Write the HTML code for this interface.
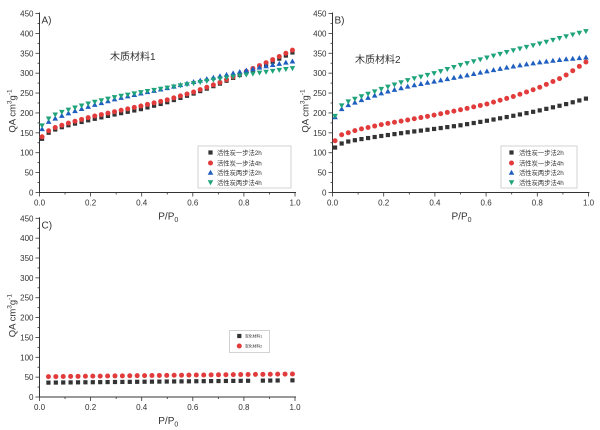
<!DOCTYPE html>
<html><head><meta charset="utf-8">
<style>
html,body{margin:0;padding:0;background:#fff;}
svg{display:block;}
text{font-family:"Liberation Sans","Noto Sans CJK SC",sans-serif;fill:#333;}
</style></head>
<body>
<svg id="s" width="600" height="430" viewBox="0 0 600 430" xmlns="http://www.w3.org/2000/svg"></svg>
<script>
const S=document.getElementById('s');
const NS='http://www.w3.org/2000/svg';
function el(t,a,txt){const e=document.createElementNS(NS,t);for(const k in a)e.setAttribute(k,a[k]);if(txt!=null)e.textContent=txt;S.appendChild(e);return e;}
const COL={k:'#333333',r:'#e23b3b',b:'#1f5fbf',g:'#1fa37a'};
function marker(type,x,y,c){
  if(type==='sq') el('rect',{x:x-2.1,y:y-2.1,width:4.2,height:4.2,fill:c});
  else if(type==='ci') el('circle',{cx:x,cy:y,r:2.5,fill:c});
  else if(type==='up') el('polygon',{points:`${x-2.8},${y+2.3} ${x+2.8},${y+2.3} ${x},${y-2.7}`,fill:c});
  else if(type==='dn') el('polygon',{points:`${x-2.8},${y-2.3} ${x+2.8},${y-2.3} ${x},${y+2.7}`,fill:c});
}
function interp(xs,ys,x){
  if(x<=xs[0])return ys[0];
  for(let i=1;i<xs.length;i++){if(x<=xs[i]){const t=(x-xs[i-1])/(xs[i]-xs[i-1]);return ys[i-1]+t*(ys[i]-ys[i-1]);}}
  return ys[ys.length-1];
}
function axes(p,label){
  const {x0,x1,y0,yt}=p;
  const sx=v=>x0+(x1-x0)*v, sy=v=>y0+(yt-y0)*v/450;
  p.sx=sx;p.sy=sy;
  el('line',{x1:x0,y1:yt-1,x2:x0,y2:y0,stroke:'#333','stroke-width':1});
  el('line',{x1:x0,y1:y0,x2:x1+1,y2:y0,stroke:'#333','stroke-width':1});
  for(let v=0;v<=450;v+=25){
    const y=sy(v),maj=v%50===0;
    el('line',{x1:x0-(maj?4:2),y1:y,x2:x0,y2:y,stroke:'#333','stroke-width':0.8});
    if(maj) el('text',{x:x0-6,y:y+3,'font-size':8,'text-anchor':'end'},String(v));
  }
  for(let i=0;i<=10;i++){
    const x=sx(i/10),maj=i%2===0;
    el('line',{x1:x,y1:y0,x2:x,y2:y0+(maj?4:2),stroke:'#333','stroke-width':0.8});
    if(maj) el('text',{x:x,y:y0+13,'font-size':8,'text-anchor':'middle'},(i/10).toFixed(1));
  }
  el('text',{x:x0+2,y:yt+10,'font-size':10},label);
  // x label
  const t=el('text',{x:(x0+x1)/2-9,y:y0+27,'font-size':10});
  t.innerHTML='P/P<tspan font-size="7" dy="2.5">0</tspan>';
  // y label
  const cy=(y0+yt)/2+8, lx=x0-24;
  const yl=el('text',{x:lx,y:cy,'font-size':9.5,'text-anchor':'middle',transform:`rotate(-90 ${lx} ${cy})`});
  yl.innerHTML='QA cm<tspan font-size="6.5" dy="-4">3</tspan><tspan dy="4">g</tspan><tspan font-size="6.5" dy="-4">-1</tspan>';
}
const XS=[0.01,0.035,0.06,0.1,0.2,0.3,0.4,0.5,0.6,0.7,0.8,0.9,0.99];
const A={x0:39.5,x1:295,y0:192.5,yt:13.5};
const B={x0:332.5,x1:588.5,y0:192.5,yt:13.5};
const C={x0:39.5,x1:295,y0:397,yt:218.3};
axes(A,'A)');axes(B,'B)');axes(C,'C)');
const dataA=[
 ['sq',COL.k,[135,150,158,167,183,197,210,227,248,272,300,325,352]],
 ['ci',COL.r,[140,155,163,172,190,204,218,233,252,275,302,330,358]],
 ['up',COL.b,[160,178,186,197,218,236,250,263,278,292,306,320,330]],
 ['dn',COL.g,[168,185,195,205,225,240,252,263,274,285,295,304,312]]
];
const dataB=[
 ['sq',COL.k,[113,123,128,133,143,152,160,169,180,192,205,220,236]],
 ['ci',COL.r,[130,145,150,158,172,183,195,208,222,240,262,290,328]],
 ['up',COL.b,[190,210,220,230,252,268,280,292,305,317,327,335,340]],
 ['dn',COL.g,[192,218,228,238,262,283,300,320,338,356,372,390,405]]
];
function plot(p,data){
  for(const [m,c,ys] of data){
    for(let i=0;i<=38;i++){
      const x=0.01+i*0.98/38;
      marker(m,p.sx(x),p.sy(interp(XS,ys,x)),c);
    }
  }
}
plot(A,dataA);plot(B,dataB);
// C
for(let i=0;i<34;i++){
  const x=0.035+i*0.955/33;
  if(!(i===28||i===32)) marker('sq',C.sx(x),C.sy(36+6*x),COL.k);
}
for(let i=0;i<34;i++){
  const x=0.035+i*0.955/33;
  marker('ci',C.sx(x),C.sy(51+7*x),COL.r);
}
// titles
el('text',{x:110,y:60,'font-size':10},'木质材料1');
el('text',{x:355,y:63,'font-size':10},'木质材料2');
// legends
function legend(x,y,w,h,items,mx,tx,rows,fs){
  el('rect',{x:x,y:y,width:w,height:h,fill:'#fff',stroke:'#c8c8c8','stroke-width':0.8});
  items.forEach((it,i)=>{
    marker(it[0],mx,rows[i],it[1]);
    el('text',{x:tx,y:rows[i]+fs*0.38,'font-size':fs},it[2]);
  });
}
const L=[['sq',COL.k,'活性炭一步法2h'],['ci',COL.r,'活性炭一步法4h'],['up',COL.b,'活性炭两步法2h'],['dn',COL.g,'活性炭两步法4h']];
legend(198,146,93,42,L,210.5,217,[152.5,163,172.5,182.5],6.3);
legend(501,146,76,42,L,511.5,519,[152.5,163,172.5,182.5],6.3);
legend(229.5,330.5,40,22,[['sq',COL.k,'炭化材料1'],['ci',COL.r,'炭化材料2']],239.3,245,[336,346],3.8);
</script>
</body></html>
